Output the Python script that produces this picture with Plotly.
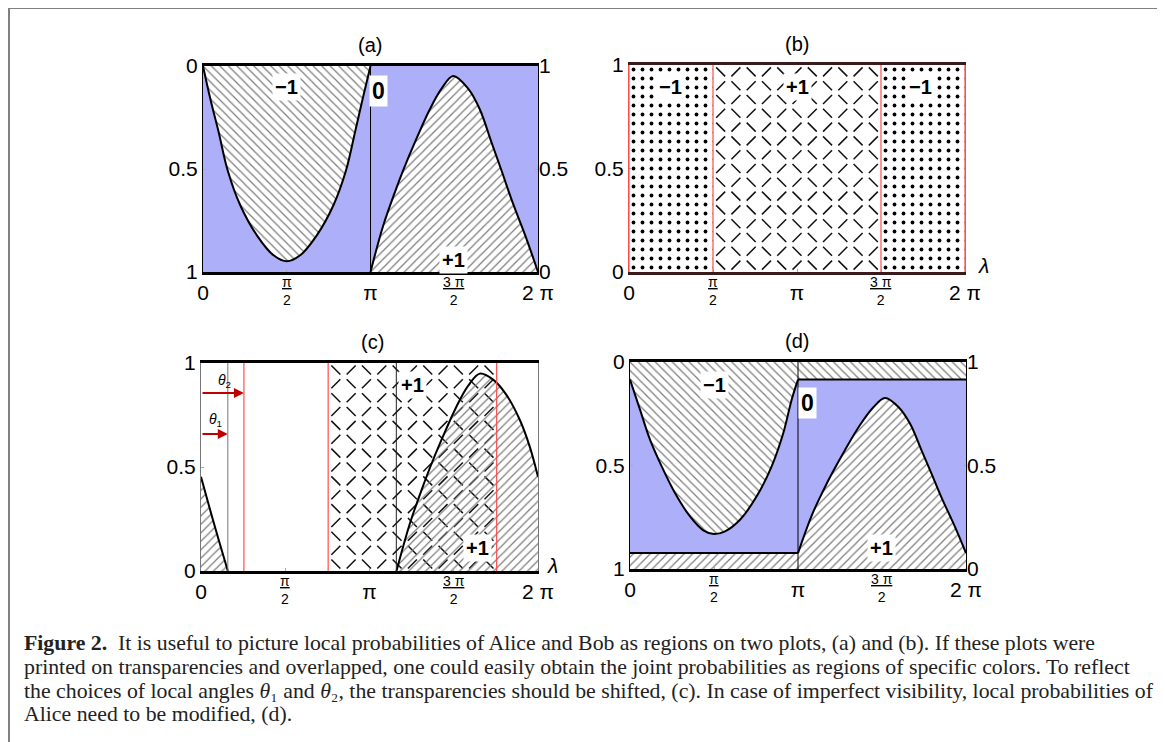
import numpy as np
import plotly.graph_objects as go

W, H = 1165, 742
OFF = 8  # the page body offsets the figure by 8 px
PI = np.pi

# ---------------- data ----------------
TICK_VALS = [0, PI / 2, PI, 3 * PI / 2, 2 * PI]
TICK_TEXT = ["0", "", "π", "", "2 π"]
FRAC_VALS = [PI / 2, 3 * PI / 2]
FRAC_TEXT = ["<u>π</u><br>2", "<u>3 π</u><br>2"]
Y_TICKS = [0, 0.5, 1]
Y_TICK_TEXT = ["0", "0.5", "1"]

# (a) Alice, boundary of the "-1" region (left axis, 0 at top)
A_MINUS_X = [0, 0.137, 0.293, 0.462, 0.699, 1.011, 1.323, 1.572, 1.822, 2.134, 2.446, 2.683, 2.852, 2.995, 3.1416]
A_MINUS_Y = [0, 0.159, 0.320, 0.506, 0.676, 0.822, 0.919, 0.948, 0.919, 0.822, 0.676, 0.506, 0.320, 0.159, 0]
# (a) Alice, boundary of the "+1" region (right axis, 0 at bottom)
A_PLUS_X = [3.1416, 3.382, 3.600, 3.756, 3.975, 4.255, 4.474, 4.692, 4.973, 5.191, 5.410, 5.597, 5.803, 6.065, 6.2832]
A_PLUS_Y = [0, 0.227, 0.388, 0.494, 0.630, 0.790, 0.890, 0.951, 0.890, 0.790, 0.630, 0.494, 0.340, 0.162, 0]

# (b) Bob, region edges
B_EDGES = [0, PI / 2, 3 * PI / 2, 2 * PI]
B_OUTCOMES = ["−1", "+1", "−1"]

# (c) shifted transparencies
THETA1 = 0.50
THETA2 = 0.80
C_PLUS_X = [3.645, 3.893, 4.110, 4.265, 4.483, 4.762, 4.979, 5.197, 5.446, 5.694, 5.943, 6.129, 6.2832]
C_PLUS_Y = [0, 0.227, 0.388, 0.494, 0.630, 0.790, 0.890, 0.949, 0.920, 0.847, 0.727, 0.598, 0.453]
C_WRAP_X = [0, 0.242, 0.50]
C_WRAP_Y = [0.453, 0.228, 0]

# (d) imperfect visibility
D_MINUS_X = [0, 0.187, 0.374, 0.592, 0.841, 1.122, 1.371, 1.571, 1.777, 2.057, 2.369, 2.649, 2.867, 3.023, 3.1416]
D_MINUS_Y = [0.085, 0.230, 0.375, 0.504, 0.633, 0.746, 0.813, 0.831, 0.818, 0.762, 0.649, 0.504, 0.343, 0.182, 0.085]
D_PLUS_X = [3.1416, 3.394, 3.622, 3.786, 4.016, 4.310, 4.539, 4.768, 5.036, 5.243, 5.452, 5.630, 5.826, 6.075, 6.2832]
D_PLUS_Y = [0.077, 0.256, 0.383, 0.466, 0.573, 0.699, 0.778, 0.826, 0.778, 0.699, 0.573, 0.466, 0.345, 0.205, 0.077]
D_BAND_MINUS = 0.085  # left axis
D_BAND_PLUS = 0.077   # right axis

CAPTION = [
    "<b>Figure 2.</b>  It is useful to picture local probabilities of Alice and Bob as regions on two plots, (a) and (b). If these plots were",
    "printed on transparencies and overlapped, one could easily obtain the joint probabilities as regions of specific colors. To reflect",
    "the choices of local angles <i>θ</i>₁ and <i>θ</i>₂, the transparencies should be shifted, (c). In case of imperfect visibility, local probabilities of",
    "Alice need to be modified, (d).",
]

# ---------------- styling (page pixel positions) ----------------
BOX = {"a": (203, 538, 66, 272), "b": (629, 965, 65, 272),
       "c": (201, 538, 363, 571), "d": (630, 966, 362, 569)}
BLUE = "#adaff8"
HATCH = "#7c7c7c"
RED = "#ff4d4d"
DARKRED = "#c00000"
CLEAR = "rgba(0,0,0,0)"
FONT = "Arial, Liberation Sans, sans-serif"
TICKFONT = dict(family=FONT, size=21, color="black")


def PX(p):
    return (p - OFF) / W


def PY(p):
    return 1 - (p - OFF) / H


def xaxis(b, anchor, linecolor="black"):
    return dict(domain=[PX(b[0]), PX(b[1])], anchor=anchor, range=[0, 2 * PI], tickmode="array",
                tickvals=TICK_VALS, ticktext=TICK_TEXT, ticks="inside", ticklen=3,
                tickcolor="#aaaaaa", tickfont=TICKFONT, showline=True, mirror=True,
                linecolor=linecolor, linewidth=3, showgrid=False, zeroline=False,
                fixedrange=True, automargin=False)


def yaxis(b, anchor, rng, linecolor="black"):
    return dict(domain=[PY(b[3]), PY(b[2])], anchor=anchor, range=rng, tickmode="array",
                tickvals=Y_TICKS, ticktext=Y_TICK_TEXT, ticks="inside", ticklen=3,
                tickcolor="#aaaaaa", tickfont=TICKFONT, showline=True, mirror=True,
                linecolor=linecolor, linewidth=1, showgrid=False, zeroline=False,
                fixedrange=True, automargin=False)


def yright(over, anchor):
    return dict(overlaying=over, side="right", anchor=anchor, range=[0, 1],
                tickmode="array", tickvals=Y_TICKS, ticktext=Y_TICK_TEXT,
                ticks="inside", ticklen=3, tickcolor="#aaaaaa", tickfont=TICKFONT,
                showline=False, showgrid=False, zeroline=False, fixedrange=True,
                automargin=False)


def hatch(shape, bg="white"):
    return dict(shape=shape, bgcolor=bg, fgcolor=HATCH, size=6, solidity=0.2)


def weave(x0, x1, b, xa, ya):
    pw = b[1] - b[0]
    ph = b[3] - b[2]
    nx = max(1, int(round((x1 - x0) / (2 * PI) * pw / 15)))
    ny = int(round(ph / 14))
    xs, ys, sy = [], [], []
    for i in range(nx):
        for j in range(ny):
            xs.append(x0 + (i + 0.5) * (x1 - x0) / nx)
            ys.append((j + 0.5) / ny)
            sy.append("line-nw" if (i + j) % 2 == 0 else "line-ne")
    return go.Scatter(x=xs, y=ys, xaxis=xa, yaxis=ya, mode="markers", hoverinfo="skip",
                      marker=dict(symbol=sy, size=9, color="#111",
                                  line=dict(width=1.5, color="#111")))


fig = go.Figure()
shapes = []
ann = []

# ---------- (a) ----------
shapes.append(dict(type="rect", xref="x domain", yref="y domain", x0=0, x1=1, y0=0, y1=1,
                   fillcolor=BLUE, line=dict(width=0), layer="below"))
fig.add_trace(go.Scatter(x=A_MINUS_X, y=A_MINUS_Y, xaxis="x", yaxis="y", mode="lines",
                         fill="tozeroy", fillcolor="white", fillpattern=hatch("\\"),
                         line=dict(color="black", width=2, shape="spline")))
fig.add_trace(go.Scatter(x=A_PLUS_X, y=A_PLUS_Y, xaxis="x", yaxis="y2", mode="lines",
                         fill="tozeroy", fillcolor="white", fillpattern=hatch("/"),
                         line=dict(color="black", width=2, shape="spline")))
shapes.append(dict(type="line", xref="x", yref="y domain", x0=PI, x1=PI, y0=0, y1=1,
                   line=dict(color="black", width=1), layer="above"))

# ---------- (b) ----------
for k in range(3):
    x0, x1 = B_EDGES[k], B_EDGES[k + 1]
    if B_OUTCOMES[k] == "−1":
        fig.add_trace(go.Scatter(x=[x0, x1], y=[1, 1], xaxis="x2", yaxis="y3", mode="lines",
                                 fill="tozeroy", fillcolor="white", line=dict(width=0),
                                 fillpattern=dict(shape=".", fgcolor="black", bgcolor="white",
                                                  size=9, solidity=0.14)))
    else:
        fig.add_trace(weave(x0, x1, BOX["b"], "x2", "y3"))
for e in B_EDGES:
    shapes.append(dict(type="line", xref="x2", yref="y3 domain", x0=e, x1=e, y0=0, y1=1,
                       line=dict(color=RED, width=1.2), layer="above"))

# ---------- (c) ----------
fig.add_trace(weave(PI / 2 + THETA2, 3 * PI / 2 + THETA2, BOX["c"], "x3", "y4"))
fig.add_trace(go.Scatter(x=C_PLUS_X, y=C_PLUS_Y, xaxis="x3", yaxis="y4", mode="lines",
                         fill="tozeroy", fillcolor=CLEAR, fillpattern=hatch("/", CLEAR),
                         line=dict(color="black", width=2, shape="spline")))
fig.add_trace(go.Scatter(x=C_WRAP_X, y=C_WRAP_Y, xaxis="x3", yaxis="y4", mode="lines",
                         fill="tozeroy", fillcolor=CLEAR, fillpattern=hatch("/", CLEAR),
                         line=dict(color="black", width=2, shape="spline")))
for e in [THETA2, PI / 2 + THETA2, 3 * PI / 2 + THETA2]:
    shapes.append(dict(type="line", xref="x3", yref="y4 domain", x0=e, x1=e, y0=0, y1=1,
                       line=dict(color=RED, width=1.2), layer="above"))
for e, col in [(THETA1, "#777"), (PI + THETA1, "#222")]:
    shapes.append(dict(type="line", xref="x3", yref="y4 domain", x0=e, x1=e, y0=0, y1=1,
                       line=dict(color=col, width=1), layer="above"))
for th, yy, lab, ly in [(THETA2, 0.856, "<i>θ</i><sub>2</sub>", 0.915),
                        (THETA1, 0.659, "<i>θ</i><sub>1</sub>", 0.725)]:
    ann.append(dict(x=th, y=yy, ax=0, ay=yy, xref="x3", yref="y4", axref="x3", ayref="y4",
                    text="", showarrow=True, arrowhead=2, arrowsize=1, arrowwidth=2,
                    arrowcolor=DARKRED))
    ann.append(dict(x=th * 0.55, y=ly, xref="x3", yref="y4", text=lab, showarrow=False,
                    xanchor="center", yanchor="middle",
                    font=dict(family=FONT, size=14, color="black")))

# ---------- (d) ----------
shapes.append(dict(type="rect", xref="x4 domain", yref="y5 domain", x0=0, x1=1, y0=0, y1=1,
                   fillcolor=BLUE, line=dict(width=0), layer="below"))
fig.add_trace(go.Scatter(x=D_MINUS_X, y=D_MINUS_Y, xaxis="x4", yaxis="y5", mode="lines",
                         fill="tozeroy", fillcolor="white", fillpattern=hatch("\\"),
                         line=dict(color="black", width=2, shape="spline")))
fig.add_trace(go.Scatter(x=[PI, 2 * PI], y=[D_BAND_MINUS, D_BAND_MINUS], xaxis="x4", yaxis="y5",
                         mode="lines", fill="tozeroy", fillcolor="white", fillpattern=hatch("\\"),
                         line=dict(color="black", width=2)))
fig.add_trace(go.Scatter(x=D_PLUS_X, y=D_PLUS_Y, xaxis="x4", yaxis="y6", mode="lines",
                         fill="tozeroy", fillcolor="white", fillpattern=hatch("/"),
                         line=dict(color="black", width=2, shape="spline")))
fig.add_trace(go.Scatter(x=[0, PI], y=[D_BAND_PLUS, D_BAND_PLUS], xaxis="x4", yaxis="y6",
                         mode="lines", fill="tozeroy", fillcolor="white", fillpattern=hatch("/"),
                         line=dict(color="black", width=2)))
shapes.append(dict(type="line", xref="x4", yref="y5 domain", x0=PI, x1=PI, y0=0, y1=1,
                   line=dict(color="black", width=1), layer="above"))

# ---------- labels ----------
def lab(x, y, xr, yr, t, size=20):
    ann.append(dict(x=x, y=y, xref=xr, yref=yr, text="<b>" + t + "</b>", showarrow=False,
                    xanchor="center", yanchor="middle", bgcolor="white", borderpad=2,
                    font=dict(family=FONT, size=size, color="black")))


lab(1.575, 0.10, "x", "y", "−1")
lab(3.30, 0.12, "x", "y", "0", 23)
lab(4.69, 0.94, "x", "y", "+1")
for xx, t in [(0.767, "−1"), (3.16, "+1"), (5.46, "−1")]:
    lab(xx, 0.894, "x2", "y3", t)
lab(3.934, 0.894, "x3", "y4", "+1")
lab(5.146, 0.111, "x3", "y4", "+1")
lab(1.589, 0.111, "x4", "y5", "−1")
lab(3.31, 0.198, "x4", "y5", "0", 23)
lab(4.71, 0.899, "x4", "y5", "+1")


def paper_text(t, px, py, size, family=FONT, xanchor="center", color="black"):
    ann.append(dict(x=PX(px), y=PY(py), xref="paper", yref="paper", text=t, showarrow=False,
                    xanchor=xanchor, yanchor="middle",
                    font=dict(family=family, size=size, color=color)))


# titles
for t, (px, py) in {"(a)": (370, 45), "(b)": (797, 44), "(c)": (372, 342), "(d)": (797, 341)}.items():
    paper_text(t, px, py, 20)

# fraction tick labels
for key, xr in [("a", "x"), ("b", "x2"), ("c", "x3"), ("d", "x4")]:
    b = BOX[key]
    for v, t in zip(FRAC_VALS, FRAC_TEXT):
        ann.append(dict(x=v, y=PY(b[3] + 19), xref=xr, yref="paper", text=t,
                        showarrow=False, xanchor="center", yanchor="middle",
                        font=dict(family=FONT, size=14, color="black")))

# lambda
for px, py in [(983, 266), (552, 565)]:
    paper_text("<i>λ</i>", px, py, 21)

# caption
CAP_X = [22, 22, 22, 22]
CAP_Y = [643, 667, 691, 714]
for t, cx, cy in zip(CAPTION, CAP_X, CAP_Y):
    paper_text(t, cx, cy, 21.8, family="Liberation Serif, serif", xanchor="left", color="#222")

# outer frame
GREY = "#808080"
shapes.append(dict(type="line", xref="paper", yref="paper", x0=1 / W, x1=1 / W, y0=0, y1=1 - 0.5 / H,
                   line=dict(color=GREY, width=2)))
shapes.append(dict(type="line", xref="paper", yref="paper", x0=0, x1=PX(1160.5),
                   y0=1 - 0.5 / H, y1=1 - 0.5 / H, line=dict(color=GREY, width=1)))
shapes.append(dict(type="line", xref="paper", yref="paper", x0=PX(1159.5), x1=PX(1159.5),
                   y0=0, y1=1 - 0.5 / H, line=dict(color=GREY, width=2)))

fig.update_layout(
    template="none",
    width=W, height=H, autosize=False,
    margin=dict(l=0, r=0, t=0, b=0, pad=0, autoexpand=False),
    paper_bgcolor="white", plot_bgcolor="white", showlegend=False,
    xaxis=xaxis(BOX["a"], "y"),
    yaxis=yaxis(BOX["a"], "x", [1, 0]),
    yaxis2=yright("y", "x"),
    xaxis2=xaxis(BOX["b"], "y3", linecolor="#3a1a1a"),
    yaxis3=yaxis(BOX["b"], "x2", [0, 1], linecolor=RED),
    xaxis3=xaxis(BOX["c"], "y4"),
    yaxis4=yaxis(BOX["c"], "x3", [0, 1], linecolor="#777"),
    xaxis4=xaxis(BOX["d"], "y5"),
    yaxis5=yaxis(BOX["d"], "x4", [1, 0]),
    yaxis6=yright("y5", "x4"),
    shapes=shapes, annotations=ann,
)

fig.write_html("out.html")
